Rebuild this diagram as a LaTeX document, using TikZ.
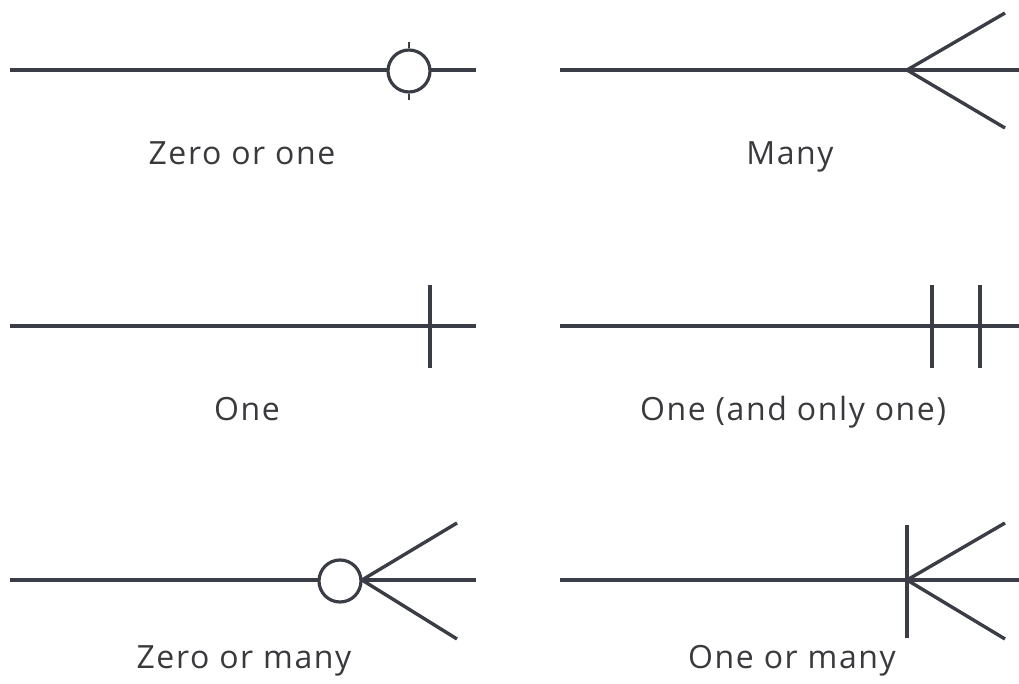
\documentclass[tikz,border=0pt]{standalone}
\usepackage{fontspec}
\setmainfont[LetterSpace=5]{Open Sans}
\begin{document}
\begin{tikzpicture}[x=1pt,y=-1pt,
  ln/.style={draw=lc,line width=3.4pt},
  ring/.style={circle,draw=lc,line width=3.2pt,fill=white,minimum size=42pt,inner sep=0pt},
  lbl/.style={text=tc,font=\fontsize{32}{36}\selectfont,inner sep=0pt,anchor=base}]
\definecolor{lc}{HTML}{3A3D45}
\definecolor{tc}{HTML}{3A3A3E}
\useasboundingbox (0,0) rectangle (1019,684);
% Row 1 left: zero or one
\coordinate (a1) at (10,70); \coordinate (b1) at (476,70);
\draw[ln] (a1) -- (b1);
\node[ring] (c1) at (409,71) {};
\draw[lc,line width=2.2pt] (c1.north) -- ++(0,-6);
\draw[lc,line width=2.2pt] (c1.south) -- ++(0,6);
\node[lbl] (t1) at (242,165) {Zero or one};
% Row 1 right: many
\coordinate (a2) at (560,70); \coordinate (b2) at (1019,70);
\coordinate (p2) at (907,70); \coordinate (u2) at (1005,13); \coordinate (d2) at (1005,128);
\draw[ln] (a2) -- (b2);
\draw[ln,line join=miter] (u2) -- (p2) -- (d2);
\node[lbl] (t2) at (790,165) {Many};
% Row 2 left: one
\coordinate (a3) at (10,326); \coordinate (b3) at (476,326);
\draw[ln] (a3) -- (b3);
\coordinate (v3a) at (430,285); \coordinate (v3b) at (430,368);
\draw[ln] (v3a) -- (v3b);
\node[lbl] (t3) at (247,420) {One};
% Row 2 right: one and only one
\coordinate (a4) at (560,326); \coordinate (b4) at (1019,326);
\draw[ln] (a4) -- (b4);
\coordinate (v4a) at (932,285); \coordinate (v4b) at (932,368);
\coordinate (w4a) at (980,285); \coordinate (w4b) at (980,368);
\draw[ln] (v4a) -- (v4b);
\draw[ln] (w4a) -- (w4b);
\node[lbl] (t4) at (793,420) {One (and only one)};
% Row 3 left: zero or many
\coordinate (a5) at (10,580); \coordinate (b5) at (476,580);
\draw[ln] (a5) -- (b5);
\coordinate (p5) at (362,580); \coordinate (u5) at (457,523); \coordinate (d5) at (457,639);
\draw[ln,line join=miter] (u5) -- (p5) -- (d5);
\node[ring] (c5) at (340,581) {};
\node[lbl] (t5) at (244,668) {Zero or many};
% Row 3 right: one or many
\coordinate (a6) at (560,580); \coordinate (b6) at (1019,580);
\draw[ln] (a6) -- (b6);
\coordinate (v6a) at (907,525); \coordinate (v6b) at (907,638);
\draw[ln] (v6a) -- (v6b);
\coordinate (p6) at (907,580); \coordinate (u6) at (1005,523); \coordinate (d6) at (1005,639);
\draw[ln,line join=miter] (u6) -- (p6) -- (d6);
\node[lbl] (t6) at (792,668) {One or many};
\end{tikzpicture}
\end{document}
